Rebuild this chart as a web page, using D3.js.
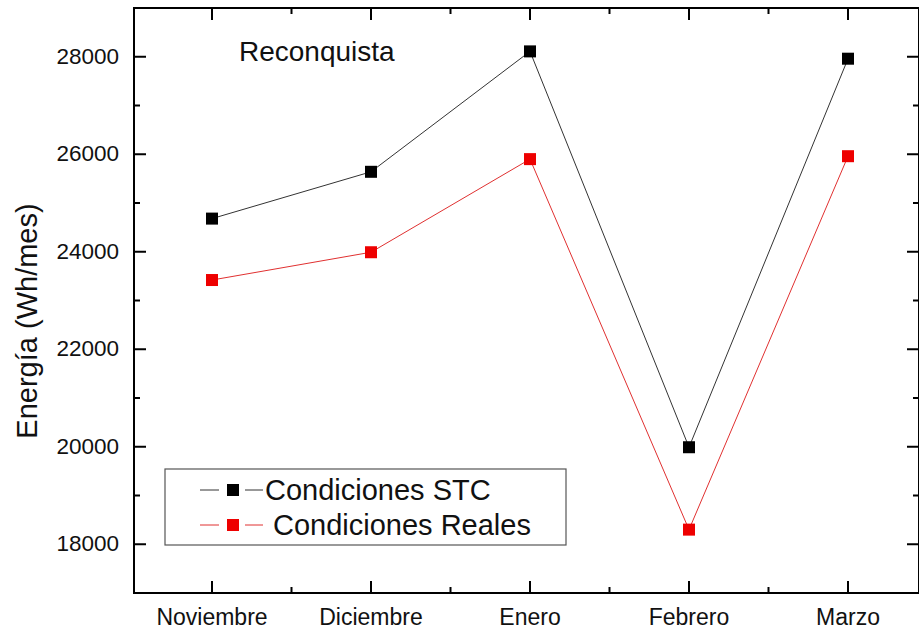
<!DOCTYPE html>
<html>
<head>
<meta charset="utf-8">
<script src="https://cdn.jsdelivr.net/npm/d3@7"></script>
<style>
  body { margin: 0; background: #fff; }
  text { font-family: "Liberation Sans", Arial, sans-serif; fill: #111; }
</style>
</head>
<body>
<div id="chart"></div>
<script>
const months = ['Noviembre', 'Diciembre', 'Enero', 'Febrero', 'Marzo']
const stc = [24680, 25640, 28110, 19990, 27960]
const reales = [23420, 23990, 25900, 18300, 25960]
const yTicks = [18000, 20000, 22000, 24000, 26000, 28000]

const chartWidth = 919
const chartHeight = 632
const plotLeft = 134
const plotRight = 919
const plotTop = 8
const plotBottom = 593

const svg = d3
  .select('#chart')
  .append('svg')
  .attr('width', chartWidth)
  .attr('height', chartHeight)

// Scales
const scaleX = d3.scalePoint().domain(months).range([212, 848])
const step = scaleX.step()
const scaleY = d3.scaleLinear().domain([17000, 29000]).range([plotBottom, plotTop])

// Frame
svg
  .append('rect')
  .attr('x', plotLeft)
  .attr('y', plotTop)
  .attr('width', plotRight - plotLeft)
  .attr('height', plotBottom - plotTop)
  .attr('fill', 'none')
  .attr('stroke', '#000')
  .attr('stroke-width', 2)

// Ticks (inward)
const minorX = months.slice(0, -1).map(m => scaleX(m) + step / 2)
const minorY = d3.range(17000, 29001, 1000).filter(v => v % 2000 !== 0)

const ticks = svg.append('g').attr('stroke', '#000').attr('stroke-width', 2)
months.forEach(m => {
  ticks.append('line').attr('x1', scaleX(m)).attr('x2', scaleX(m)).attr('y1', plotBottom).attr('y2', plotBottom - 12)
  ticks.append('line').attr('x1', scaleX(m)).attr('x2', scaleX(m)).attr('y1', plotTop).attr('y2', plotTop + 12)
})
minorX.forEach(x => {
  ticks.append('line').attr('x1', x).attr('x2', x).attr('y1', plotBottom).attr('y2', plotBottom - 6)
  ticks.append('line').attr('x1', x).attr('x2', x).attr('y1', plotTop).attr('y2', plotTop + 6)
})
yTicks.forEach(v => {
  ticks.append('line').attr('x1', plotLeft).attr('x2', plotLeft + 12).attr('y1', scaleY(v)).attr('y2', scaleY(v))
  ticks.append('line').attr('x1', plotRight).attr('x2', plotRight - 12).attr('y1', scaleY(v)).attr('y2', scaleY(v))
})
minorY.forEach(v => {
  ticks.append('line').attr('x1', plotLeft).attr('x2', plotLeft + 6).attr('y1', scaleY(v)).attr('y2', scaleY(v))
  ticks.append('line').attr('x1', plotRight).attr('x2', plotRight - 6).attr('y1', scaleY(v)).attr('y2', scaleY(v))
})

// Tick labels
svg
  .append('g')
  .selectAll('text')
  .data(yTicks)
  .enter()
  .append('text')
  .attr('x', 119)
  .attr('y', d => scaleY(d) + 7)
  .attr('text-anchor', 'end')
  .attr('font-size', 22.5)
  .text(d => d)

svg
  .append('g')
  .selectAll('text')
  .data(months)
  .enter()
  .append('text')
  .attr('x', d => scaleX(d))
  .attr('y', 625)
  .attr('text-anchor', 'middle')
  .attr('font-size', 23)
  .text(d => d)

// Y axis title
svg
  .append('text')
  .attr('transform', 'translate(37,321) rotate(-90)')
  .attr('text-anchor', 'middle')
  .attr('font-size', 29)
  .text('Energía (Wh/mes)')

// Chart title
svg
  .append('text')
  .attr('x', 239)
  .attr('y', 61)
  .attr('font-size', 28)
  .text('Reconquista')

// Series
const series = [
  { name: 'Condiciones STC', values: stc, color: '#000', line: '#333' },
  { name: 'Condiciones Reales', values: reales, color: '#ee0000', line: '#e03030' },
]

const line = d3
  .line()
  .x((d, i) => scaleX(months[i]))
  .y(d => scaleY(d))

series.forEach(s => {
  svg
    .append('path')
    .datum(s.values)
    .attr('d', line)
    .attr('fill', 'none')
    .attr('stroke', s.line)
    .attr('stroke-width', 1)

  svg
    .append('g')
    .selectAll('rect')
    .data(s.values)
    .enter()
    .append('rect')
    .attr('x', (d, i) => scaleX(months[i]) - 6)
    .attr('y', d => scaleY(d) - 6)
    .attr('width', 12)
    .attr('height', 12)
    .attr('fill', s.color)
})

// Legend
const legend = svg.append('g')
legend
  .append('rect')
  .attr('x', 165)
  .attr('y', 469)
  .attr('width', 401)
  .attr('height', 76)
  .attr('fill', '#fff')
  .attr('stroke', '#555')
  .attr('stroke-width', 1.2)

series.forEach((s, i) => {
  const y = 490 + i * 35
  legend.append('line').attr('x1', 200).attr('x2', 219).attr('y1', y).attr('y2', y).attr('stroke', s.line).attr('stroke-width', 1)
  legend.append('line').attr('x1', 245).attr('x2', 263).attr('y1', y).attr('y2', y).attr('stroke', s.line).attr('stroke-width', 1)
  legend.append('rect').attr('x', 227).attr('y', y - 6).attr('width', 12).attr('height', 12).attr('fill', s.color)
  legend
    .append('text')
    .attr('x', i === 0 ? 265 : 273)
    .attr('y', y + 10)
    .attr('font-size', 29)
    .text(s.name)
})
</script>
</body>
</html>
